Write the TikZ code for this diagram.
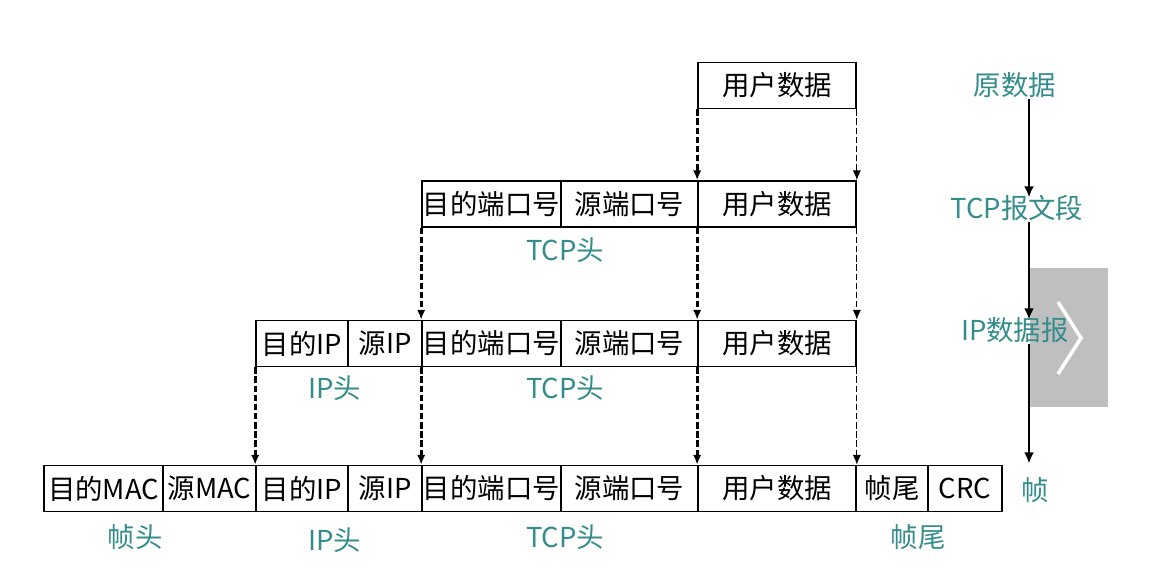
\documentclass[tikz,border=0pt]{standalone}
\usepackage{fontspec}
\setmainfont{Noto Sans CJK SC}
\usetikzlibrary{arrows.meta}
\definecolor{lblteal}{RGB}{52,140,140}

\tikzset{
  field/.style={draw,line width=1.2pt,inner sep=0pt,minimum height=46*0.025cm,
    minimum width=#1*0.025cm,font=\fontsize{19.5}{21}\selectfont},
  hdr/.style={text=lblteal,inner sep=1pt,font=\fontsize{19.5}{21}\selectfont},
  dasharr/.style={line width=2.2pt,dash pattern=on 4.5pt off 2pt,-{Latex[length=7pt,width=6pt]}},
  thinarr/.style={line width=0.9pt,dash pattern=on 4.5pt off 2pt,-{Latex[length=7pt,width=6pt]}},
  steparr/.style={line width=2pt,-{Latex[length=8pt,width=7pt]}}
}

\begin{document}
\begin{tikzpicture}[x=0.025cm,y=-0.025cm]
  \useasboundingbox (0,0) rectangle (1172,586);

  % top row
  \node[field=158] (r1u) at (777,85.5) {用户数据};

  % tcp segment
  \node[field=139] (r2dp) at (491.5,204) {目的端口号};
  \node[field=137] (r2sp) at (629.5,204) {源端口号};
  \node[field=158] (r2u)  at (777,204)   {用户数据};
  \node[hdr] (r2tcp) at (565,250) {TCP头};

  % ip datagram
  \node[field=92]  (r3dip) at (302,343.5)   {目的IP};
  \node[field=74]  (r3sip) at (385,343.5)   {源IP};
  \node[field=139] (r3dp)  at (491.5,343.5) {目的端口号};
  \node[field=137] (r3sp)  at (629.5,343.5) {源端口号};
  \node[field=158] (r3u)   at (777,343.5)   {用户数据};
  \node[hdr] (r3ip)  at (335,388) {IP头};
  \node[hdr] (r3tcp) at (565,388) {TCP头};

  % frame
  \node[field=119] (r4dmac) at (103.5,488.5) {目的MAC};
  \node[field=93]  (r4smac) at (209.5,488.5) {源MAC};
  \node[field=92]  (r4dip)  at (302,488.5)   {目的IP};
  \node[field=74]  (r4sip)  at (385,488.5)   {源IP};
  \node[field=139] (r4dp)   at (491.5,488.5) {目的端口号};
  \node[field=137] (r4sp)   at (629.5,488.5) {源端口号};
  \node[field=158] (r4u)    at (777,488.5)   {用户数据};
  \node[field=72]  (r4tail) at (892,488.5)   {帧尾};
  \node[field=74]  (r4crc)  at (965,488.5)   {CRC};
  \node[hdr] (r4fh)  at (135,537) {帧头};
  \node[hdr] (r4ip)  at (335,540) {IP头};
  \node[hdr] (r4tcp) at (565,537) {TCP头};
  \node[hdr] (r4ft)  at (918,537) {帧尾};

  \foreach \from/\to in {r1u/r2u,r2dp/r3dp,r2u/r3u,r3dip/r4dip,r3dp/r4dp,r3u/r4u}
    \draw[dasharr] (\from.south west) -- (\to.north west);
  \foreach \from/\to in {r1u/r2u,r2u/r3u,r3u/r4u}
    \draw[thinarr] (\from.south east) -- (\to.north east);

  % right column
  \fill[black!25] (1030,268) rectangle (1108,407);
  \coordinate (axis) at (1029,0);
  \node[hdr] (s1) at (1015,85)  {原数据};
  \node[hdr] (s2) at (1017,208) {TCP报文段};
  \node[hdr] (s3) at (1015,330) {IP数据报};
  \node[hdr] (s4) at (1035,490) {帧};
  \draw[steparr] (s1.south -| axis) -- ([yshift=-0.1cm]s2.north -| axis);
  \draw[steparr] (s2.south -| axis) -- ([yshift=-0.1cm]s3.north -| axis);
  \draw[steparr] (s3.south -| axis) -- ([yshift=0.3cm]s4.north -| axis);
  \draw[white,line width=2.5pt] (1058,302) -- (1081,338) -- (1058,374);
\end{tikzpicture}
\end{document}
